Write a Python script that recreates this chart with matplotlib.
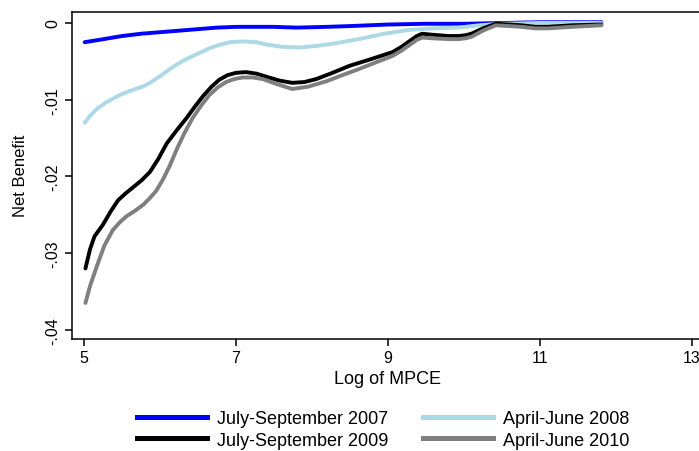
import matplotlib
matplotlib.use("Agg")
import matplotlib.pyplot as plt
from matplotlib.lines import Line2D

plt.rcParams['font.family'] = ['Liberation Sans', 'DejaVu Sans']

# Net benefit by log of monthly per-capita expenditure, one curve per survey round
x_2007 = [5.01, 5.2, 5.5, 5.75, 6.0, 6.25, 6.5, 6.75, 7.0, 7.5, 7.8, 8.2, 8.5,
          9.0, 9.5, 10.0, 10.5, 11.0, 11.81]
y_2007 = [-0.0025, -0.0022, -0.0017, -0.0014, -0.0012, -0.0010, -0.0008, -0.0006,
          -0.0005, -0.0005, -0.0006, -0.0005, -0.0004, -0.0002, -0.0001, -0.0001,
          0.0000, 0.0001, 0.0001]

x_2008 = [5.01, 5.08, 5.17, 5.3, 5.47, 5.62, 5.77, 5.87, 5.96, 6.05, 6.13, 6.24,
          6.35, 6.5, 6.65, 6.8, 6.92, 7.1, 7.27, 7.40, 7.6, 7.83, 8.05, 8.27, 8.45,
          8.62, 8.95, 9.28, 9.6, 9.93, 10.2, 10.5, 11.0, 11.81]
y_2008 = [-0.0130, -0.0121, -0.0112, -0.0103, -0.0094, -0.0088, -0.0083, -0.0078,
          -0.0072, -0.0066, -0.0060, -0.0053, -0.0047, -0.0040, -0.0033, -0.0028,
          -0.0025, -0.0024, -0.0025, -0.0028, -0.0031, -0.0032, -0.0030, -0.0027,
          -0.0024, -0.0021, -0.0014, -0.0009, -0.0007, -0.0006, -0.0003, -0.0001,
          0.0000, 0.0000]

x_2009 = [5.02, 5.08, 5.14, 5.25, 5.35, 5.45, 5.55, 5.65, 5.76, 5.87, 5.98, 6.09,
          6.22, 6.35, 6.46, 6.57, 6.68, 6.78, 6.89, 7.00, 7.13, 7.27, 7.40, 7.57,
          7.74, 7.9, 8.06, 8.27, 8.49, 8.78, 9.06, 9.18, 9.28, 9.38, 9.45, 9.55,
          9.67, 9.8, 9.93, 10.02, 10.10, 10.25, 10.42, 10.6, 10.76, 10.94, 11.1,
          11.42, 11.81]
y_2009 = [-0.0320, -0.0295, -0.0278, -0.0263, -0.0246, -0.0231, -0.0222, -0.0214,
          -0.0205, -0.0194, -0.0177, -0.0157, -0.0140, -0.0124, -0.0109, -0.0095,
          -0.0083, -0.0074, -0.0068, -0.0065, -0.0064, -0.0066, -0.0070, -0.0075,
          -0.0078, -0.0077, -0.0073, -0.0065, -0.0056, -0.0047, -0.0038, -0.0031,
          -0.0024, -0.0017, -0.0014, -0.0015, -0.0016, -0.0017, -0.0017, -0.0016,
          -0.0014, -0.0007, -0.0001, -0.0002, -0.0003, -0.0005, -0.0005, -0.0003,
          -0.0002]

x_2010 = [5.02, 5.08, 5.17, 5.27, 5.38, 5.47, 5.56, 5.67, 5.78, 5.87, 5.95, 6.04,
          6.13, 6.22, 6.32, 6.43, 6.54, 6.65, 6.76, 6.87, 6.98, 7.09, 7.22, 7.35,
          7.55, 7.74, 7.95, 8.19, 8.4, 8.62, 8.85, 9.06, 9.18, 9.28, 9.38, 9.45,
          9.6, 9.8, 9.93, 10.02, 10.10, 10.25, 10.42, 10.6, 10.76, 10.94, 11.1,
          11.42, 11.81]
y_2010 = [-0.0365, -0.0343, -0.0317, -0.0290, -0.0270, -0.0260, -0.0252, -0.0245,
          -0.0237, -0.0228, -0.0219, -0.0204, -0.0186, -0.0165, -0.0144, -0.0124,
          -0.0108, -0.0094, -0.0084, -0.0077, -0.0073, -0.0071, -0.0071, -0.0073,
          -0.0080, -0.0086, -0.0083, -0.0076, -0.0068, -0.0060, -0.0051, -0.0043,
          -0.0036, -0.0029, -0.0022, -0.0019, -0.0020, -0.0021, -0.0021, -0.0020,
          -0.0018, -0.0010, -0.0003, -0.0004, -0.0005, -0.0007, -0.0007, -0.0005,
          -0.0003]

labels = ["July-September 2007", "April-June 2008", "July-September 2009", "April-June 2010"]
colors = ["#0000ff", "#add8e6", "#000000", "#7f7f7f"]

xticks = [5, 7, 9, 11, 13]
yticks = [0, -0.01, -0.02, -0.03, -0.04]
ytick_labels = ["0", "-.01", "-.02", "-.03", "-.04"]

W, H = 699, 452
fig = plt.figure(figsize=(W / 100, H / 100), dpi=100)
# plot region in pixels: left 72, right 704 (just past the edge), top 12.5, bottom 340
ax = fig.add_axes([72 / W, (H - 340) / H, (704 - 72) / W, (340 - 12.5) / H])

series = [(x_2007, y_2007), (x_2008, y_2008), (x_2009, y_2009), (x_2010, y_2010)]
for (xs, ys), c, lab in zip(series, colors, labels):
    ax.plot(xs, ys, color=c, lw=2.8, solid_capstyle='round',
            solid_joinstyle='round', label=lab)

ax.set_xlim(4.843, 13.16)
ax.set_ylim(-0.0412, 0.0015)

ax.set_xticks(xticks)
ax.set_xticklabels([str(t) for t in xticks])
ax.set_yticks(yticks)
ax.set_yticklabels(ytick_labels, rotation=90, va='center')

for s in ax.spines.values():
    s.set_linewidth(1.1)
ax.tick_params(axis='both', length=5, width=1.1, labelsize=11.5, color='black')
ax.tick_params(axis='x', pad=3)
ax.tick_params(axis='y', pad=3.5)

ax.set_xlabel("Log of MPCE", fontsize=13, va='center')
ax.xaxis.set_label_coords(0.5, -0.122)
ax.set_ylabel("Net Benefit", fontsize=12, va='center')
ax.yaxis.set_label_coords(-0.082, 0.5)

# legend fills row-wise: 2007 | 2008 on top, 2009 | 2010 below
order = [0, 2, 1, 3]
handles = [Line2D([], [], color=colors[i], lw=3.6) for i in order]
fig.legend(handles, [labels[i] for i in order], ncol=2, frameon=False,
           loc='upper left', bbox_to_anchor=(137 / W, 1 - 411 / H),
           fontsize=13, handlelength=3.9, handletextpad=0.55,
           columnspacing=1.9, labelspacing=0.25, borderpad=0, borderaxespad=0)

fig.savefig("out.png", dpi=100)
